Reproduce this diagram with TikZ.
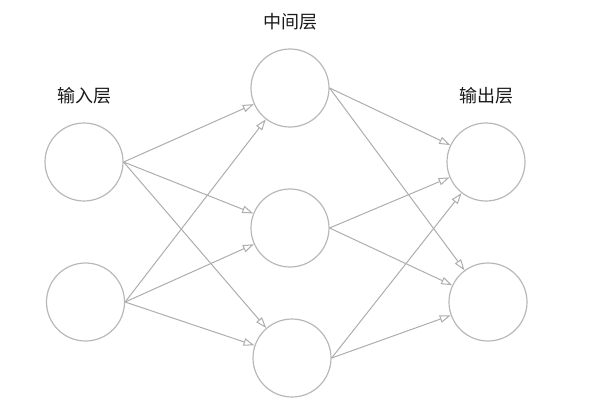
\documentclass[tikz,border=0pt]{standalone}
\usepackage{fontspec}
\newfontfamily\cjk{Noto Sans CJK SC}
\usetikzlibrary{arrows.meta}
\begin{document}
\begin{tikzpicture}[x=1pt,y=-1pt,
  neuron/.style={circle,draw=black!28,line width=1.2pt,minimum size=78pt,inner sep=0pt},
  conn/.style={draw=black!32,line width=1pt,-{Triangle[open,length=11pt,width=7.5pt]}},
  lbl/.style={font=\cjk\fontsize{18}{20}\selectfont,text=black!90}]
\useasboundingbox (0,0) rectangle (601,413);
\node[neuron] (i1) at (84,162) {};
\node[neuron] (i2) at (85.5,302) {};
\node[neuron] (h1) at (290,88) {};
\node[neuron] (h2) at (290,228) {};
\node[neuron] (h3) at (292,358) {};
\node[neuron] (o1) at (486,162) {};
\node[neuron] (o2) at (488,302) {};
\node[lbl] (li) at (84,96) {输入层};
\node[lbl] (lh) at (290,22) {中间层};
\node[lbl] (lo) at (486,96) {输出层};
\foreach \a in {i1,i2}{\foreach \b in {h1,h2,h3}{\draw[conn] (\a.east) -- (\b);}}
\foreach \a in {h1,h2,h3}{\foreach \b in {o1,o2}{\draw[conn] (\a.east) -- (\b);}}
\end{tikzpicture}
\end{document}
